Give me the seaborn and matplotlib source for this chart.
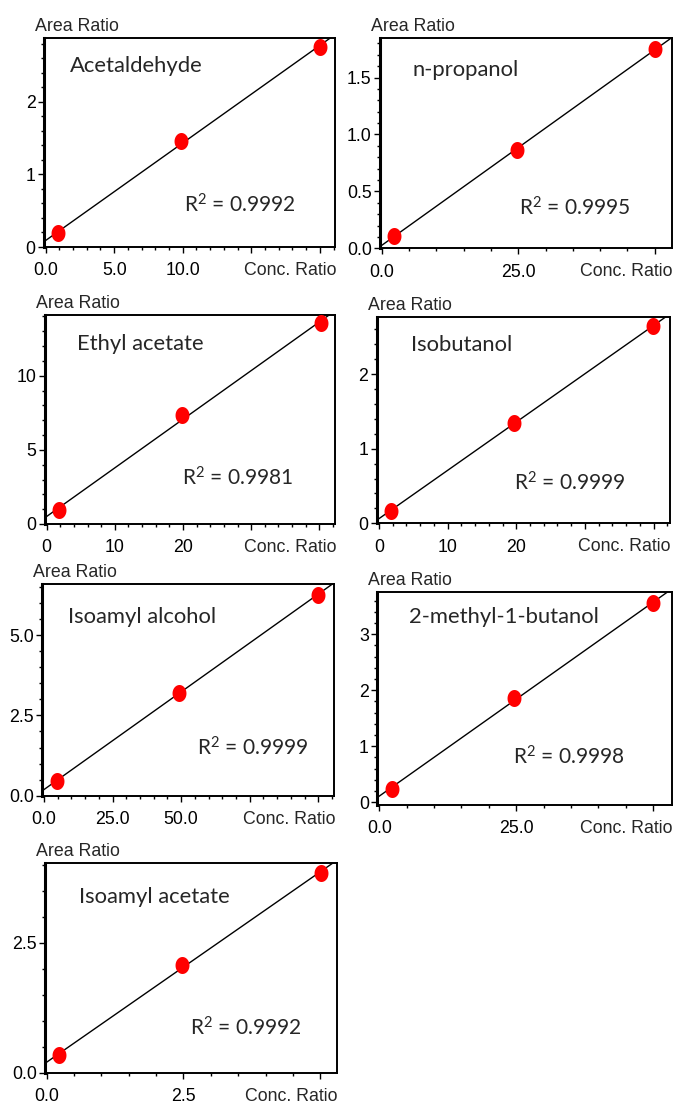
import numpy as np
import pandas as pd
import matplotlib
matplotlib.use("Agg")
import matplotlib.pyplot as plt
from matplotlib.path import Path
import seaborn as sns

# compounds and R2 labels
compounds = ["Acetaldehyde", "n-propanol", "Ethyl acetate", "Isobutanol",
             "Isoamyl alcohol", "2-methyl-1-butanol", "Isoamyl acetate"]
r2_values = ["0.9992", "0.9995", "0.9981", "0.9999", "0.9999", "0.9998", "0.9992"]

# calibration points (conc. ratio, area ratio)
conc_acetaldehyde = [0.9, 9.9, 20.0]
area_acetaldehyde = [0.19, 1.46, 2.76]
conc_propanol = [2.25, 24.7, 50.0]
area_propanol = [0.11, 0.86, 1.75]
conc_ethyl_acetate = [1.8, 19.9, 40.2]
area_ethyl_acetate = [0.95, 7.32, 13.56]
conc_isobutanol = [1.75, 19.7, 39.9]
area_isobutanol = [0.17, 1.35, 2.64]
conc_isoamyl_alcohol = [4.6, 49.3, 99.7]
area_isoamyl_alcohol = [0.46, 3.21, 6.25]
conc_methylbutanol = [2.26, 24.6, 50.0]
area_methylbutanol = [0.24, 1.86, 3.55]
conc_isoamyl_acetate = [0.225, 2.48, 5.01]
area_isoamyl_acetate = [0.34, 2.07, 3.85]

concs = [conc_acetaldehyde, conc_propanol, conc_ethyl_acetate, conc_isobutanol,
         conc_isoamyl_alcohol, conc_methylbutanol, conc_isoamyl_acetate]
areas = [area_acetaldehyde, area_propanol, area_ethyl_acetate, area_isobutanol,
         area_isoamyl_alcohol, area_methylbutanol, area_isoamyl_acetate]

# tick labels (only the first few major x ticks carry a label)
x_ticklabels = [["0.0", "5.0", "10.0"], ["0.0", "25.0"], ["0", "10", "20"],
                ["0", "10", "20"], ["0.0", "25.0", "50.0"], ["0.0", "25.0"],
                ["0.0", "2.5"]]
y_ticklabels = [["0", "1", "2"], ["0.0", "0.5", "1.0", "1.5"], ["0", "5", "10"],
                ["0", "1", "2"], ["0.0", "2.5", "5.0"], ["0", "1", "2", "3"],
                ["0.0", "2.5"]]

# axis setup: (major, minor) steps and limits
x_steps = [(5, 1), (25, 5), (10, 2), (10, 2), (25, 5), (25, 5), (2.5, 0.5)]
y_steps = [(1, 0.2), (0.5, 0.1), (5, 1), (1, 0.2), (2.5, 0.5), (1, 0.2), (2.5, 0.5)]
x_lims = [(-0.12, 21.1), (-0.3, 53.1), (-0.25, 42.3), (-0.34, 42.4),
          (-0.6, 105.8), (-0.36, 53.4), (-0.03, 5.30)]
y_lims = [(0, 2.88), (0, 1.85), (0, 14.1), (0, 2.77), (0, 6.58), (-0.05, 3.76), (0, 4.03)]

# layout in pixels: left, top, right, bottom
W, H = 674, 1105
boxes = [(44, 38, 335, 247), (380, 37.7, 671.7, 248.3), (45, 315, 335, 524),
         (376.7, 316.7, 670, 523.3), (42.3, 584.3, 334.3, 795.7),
         (377.3, 591.7, 671.7, 805), (45, 863.3, 336.7, 1072.7)]
name_pos = [(0.089, 0.867), (0.112, 0.847), (0.109, 0.86), (0.116, 0.863),
            (0.089, 0.847), (0.109, 0.883), (0.118, 0.84)]
r2_pos = [(0.481, 0.201), (0.478, 0.19), (0.471, 0.22), (0.469, 0.194),
          (0.529, 0.227), (0.462, 0.226), (0.497, 0.212)]

sns.set_style("ticks")
plt.rcParams["font.family"] = ["Liberation Sans", "DejaVu Sans"]
plt.rcParams["mathtext.fontset"] = "custom"
plt.rcParams["mathtext.rm"] = "Lato"
plt.rcParams["mathtext.it"] = "Lato"
tick_fs = 12.8

# slightly tall ellipse like the dots in the original
t = np.linspace(0, 2 * np.pi, 40)
ellipse = Path(np.column_stack([0.82 * np.cos(t), np.sin(t)]), closed=True)

fig = plt.figure(figsize=(W / 100, H / 100), dpi=100)

for i in range(len(compounds)):
    l, tp, r, b = boxes[i]
    ax = fig.add_axes([l / W, 1 - b / H, (r - l) / W, (b - tp) / H])
    ax.set_xlim(x_lims[i])
    ax.set_ylim(y_lims[i])

    df = pd.DataFrame({"conc": concs[i], "area": areas[i]})
    sns.regplot(x="conc", y="area", data=df, ax=ax, ci=None, truncate=False,
                color="black", marker=ellipse,
                scatter_kws=dict(s=150, color="#ff0000", zorder=3, linewidths=0, alpha=1),
                line_kws=dict(color="black", lw=1.0, zorder=2))
    ax.set_xlim(x_lims[i])
    ax.set_ylim(y_lims[i])

    # ticks
    xmaj, xmin_ = x_steps[i]
    ymaj, ymin_ = y_steps[i]
    xt = np.arange(0, x_lims[i][1] + 1e-9, xmaj)
    yt = np.arange(0, y_lims[i][1] + 1e-9, ymaj)
    ax.set_xticks(xt)
    ax.set_xticklabels(x_ticklabels[i] + [""] * (len(xt) - len(x_ticklabels[i])))
    ax.set_yticks(yt)
    ax.set_yticklabels(y_ticklabels[i] + [""] * (len(yt) - len(y_ticklabels[i])))
    ax.set_xticks(np.arange(0, x_lims[i][1], xmin_), minor=True)
    ax.set_yticks(np.arange(0, y_lims[i][1], ymin_), minor=True)
    ax.tick_params(which="major", length=4, width=1, color="black",
                   labelsize=tick_fs, labelcolor="black")
    ax.tick_params(which="minor", length=2.5, width=1, color="black")
    ax.tick_params(axis="x", which="major", pad=7)
    ax.tick_params(axis="y", which="major", pad=2)

    for side in ["top", "right", "bottom"]:
        ax.spines[side].set_linewidth(1.4)
        ax.spines[side].set_color("black")
    ax.spines["left"].set_linewidth(2.2)
    ax.spines["left"].set_color("black")
    ax.set_xlabel("")
    ax.set_ylabel("")

    ax.annotate("Area Ratio", xy=(0, 1), xycoords="axes fraction",
                xytext=(-9, 3), textcoords="offset pixels",
                ha="left", va="bottom", fontsize=tick_fs)
    ax.annotate("Conc. Ratio", xy=(1, 0), xycoords="axes fraction",
                xytext=(1, -15), textcoords="offset pixels",
                ha="right", va="top", fontsize=tick_fs)

    ax.text(name_pos[i][0], name_pos[i][1], compounds[i], transform=ax.transAxes,
            ha="left", va="center", fontsize=15.8, family=["Lato", "DejaVu Sans"])
    ax.text(r2_pos[i][0], r2_pos[i][1], "R$^{2}$ = " + r2_values[i],
            transform=ax.transAxes, ha="left", va="center", fontsize=15,
            family=["Lato", "DejaVu Sans"])

fig.savefig("out.png", dpi=100)
